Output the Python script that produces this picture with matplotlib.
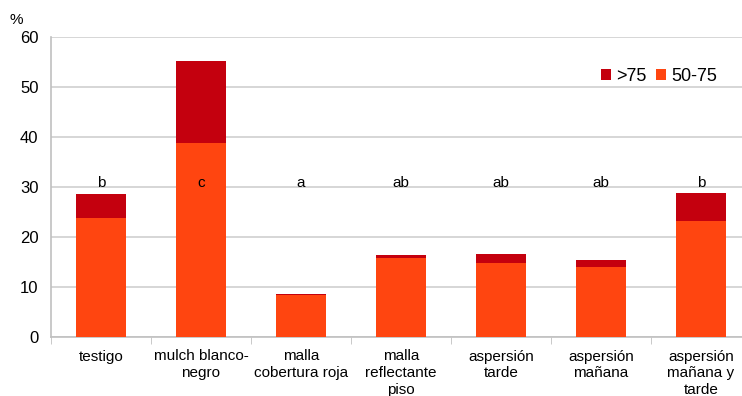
import numpy as np
import matplotlib
matplotlib.use("Agg")
import matplotlib.pyplot as plt

plt.rcParams['font.family'] = ['Liberation Sans', 'DejaVu Sans']

categorias = ["testigo", "mulch blanco-\nnegro", "malla\ncobertura roja",
              "malla\nreflectante\npiso", "aspersión\ntarde",
              "aspersión\nmañana", "aspersión\nmañana y\ntarde"]
rango_50_75 = [23.9, 38.9, 8.4, 15.9, 14.9, 14.1, 23.3]
mayor_75 = [4.8, 16.3, 0.2, 0.5, 1.8, 1.3, 5.6]
letras = ["b", "c", "a", "ab", "ab", "ab", "b"]

col_50 = "#FF4510"
col_75 = "#C4000E"

fig = plt.figure(figsize=(7.42, 3.96), dpi=100)
ax = fig.add_axes([51 / 742, 59 / 396, 700 / 742, 300 / 396])

x = np.arange(len(categorias))
ax.bar(x, rango_50_75, width=0.5, color=col_50, label="50-75", zorder=3)
ax.bar(x, mayor_75, width=0.5, bottom=rango_50_75, color=col_75,
       label=">75", zorder=3)

# letras de significancia, todas a la misma altura
for xi, letra in zip(x, letras):
    ax.text(xi, 30.8, letra, ha="center", va="center", fontsize=11, zorder=4)

ax.set_xlim(-0.5, 6.5)
ax.set_ylim(0, 60)
ax.set_yticks(range(0, 61, 10))
ax.yaxis.grid(True, color="#D0D0D0", linewidth=1.2, zorder=0)
ax.set_axisbelow(True)

ax.set_xticks(x)
ax.set_xticklabels(categorias, fontsize=11, linespacing=1.25)
ax.set_xticks(np.arange(-0.5, 7, 1), minor=True)
ax.tick_params(axis="x", which="major", length=0, pad=9)
ax.tick_params(axis="x", which="minor", length=5, color="#C0C0C0")
ax.tick_params(axis="y", length=0, labelsize=12, pad=9)

for lado in ["top", "right"]:
    ax.spines[lado].set_visible(False)
for lado in ["left", "bottom"]:
    ax.spines[lado].set_color("#C0C0C0")
    ax.spines[lado].set_linewidth(1.2)

fig.text(10 / 742, 1 - 20 / 396, "%", fontsize=11, va="center", ha="left")

h, l = ax.get_legend_handles_labels()
ax.legend(h[::-1], l[::-1], loc="upper left", bbox_to_anchor=(0.762, 0.95),
          ncol=2, frameon=False, fontsize=13, handlelength=0.55,
          handleheight=0.55, handletextpad=0.3, columnspacing=0.55)

fig.savefig("out.png", dpi=100)
